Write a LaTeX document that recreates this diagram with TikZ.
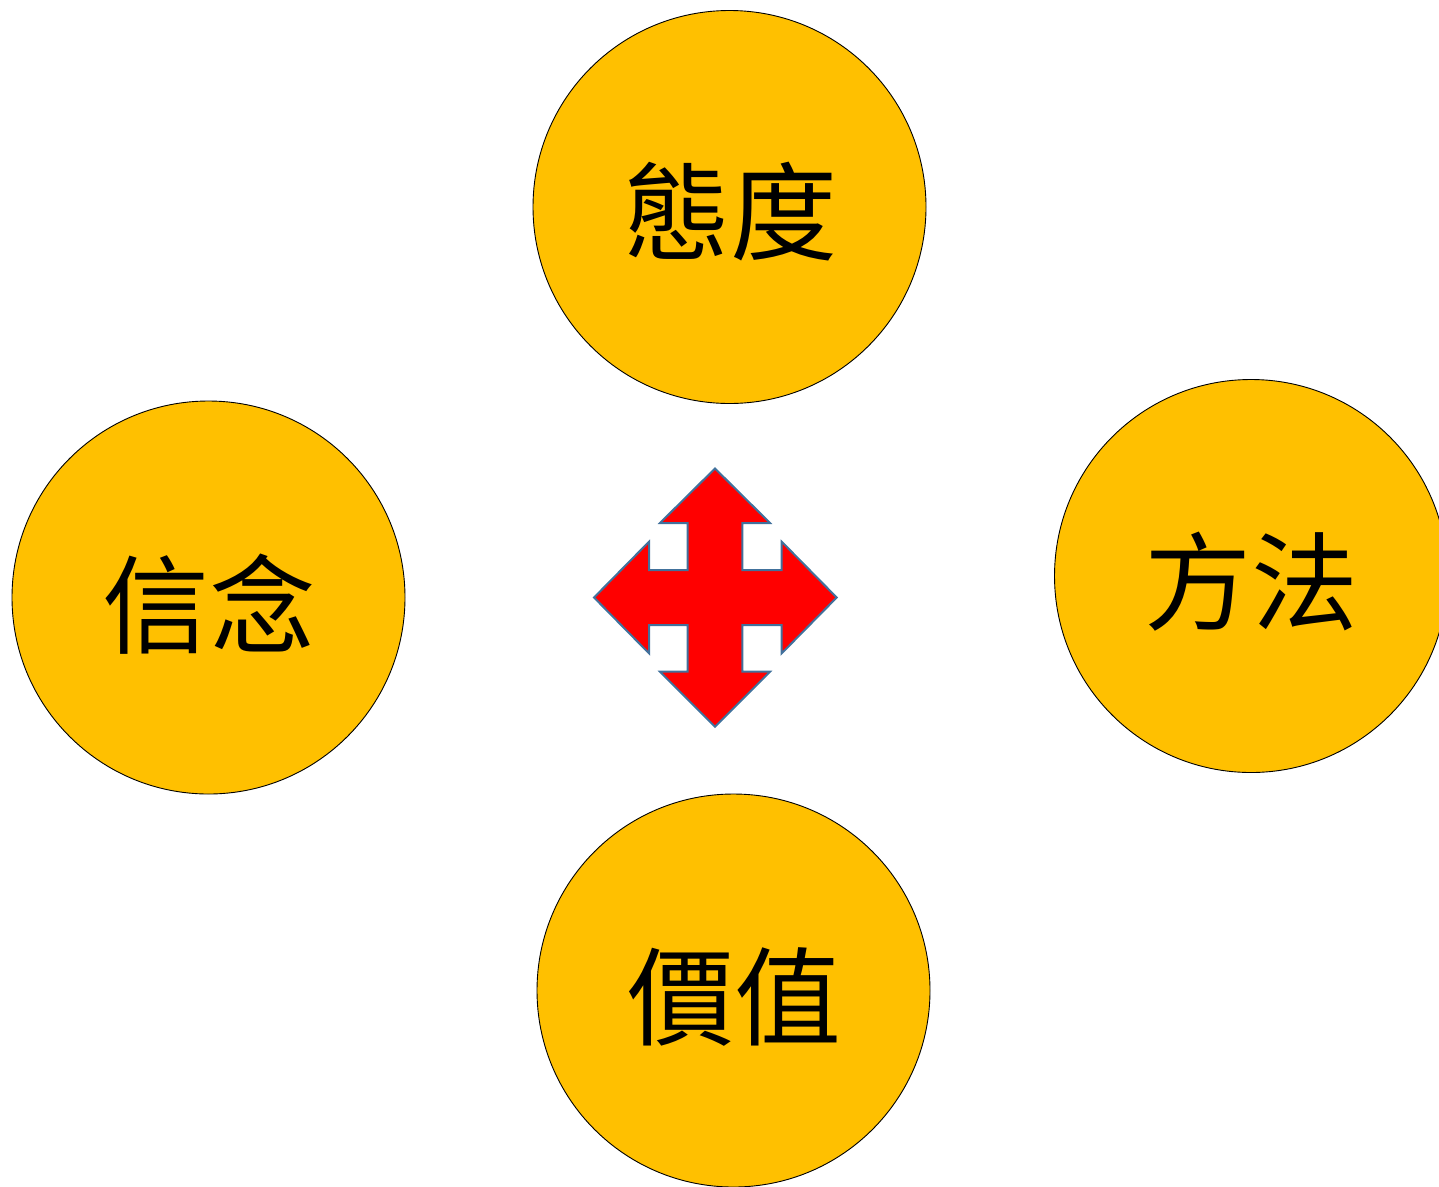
\documentclass[tikz,border=0pt]{standalone}
\usepackage{fontspec}
\newfontfamily\cjk{Noto Sans CJK TC}
\definecolor{gold}{HTML}{FFC000}
\definecolor{edgeblue}{HTML}{41719C}
\begin{document}
\begin{tikzpicture}[x=1pt,y=-1pt,
  bubble/.style={circle,draw=black,line width=0.9pt,fill=gold,minimum size=393pt,inner sep=0pt},
  word/.style={font=\cjk\fontsize{107}{107}\selectfont,text=black,inner sep=0pt},
  quadarrow/.style={fill=red,draw=edgeblue,line width=2pt,line join=miter}]
\useasboundingbox (0,0) rectangle (1439,1186);
\node[bubble] (top) at (729.5,207) {};
\node[bubble] (left) at (208.5,597.5) {};
\node[bubble] (right) at (1251,576) {};
\node[bubble] (bottom) at (733.5,990.5) {};
\node[word] (ttop) at (730,212) {態度};
\node[word] (tleft) at (209,604) {信念};
\node[word] (tright) at (1251,582) {方法};
\node[word] (tbottom) at (734,997) {價值};
\draw[quadarrow,shift={(715,597.5)}]
  (0,-129) -- (55,-74.5) -- (27.3,-74.5) -- (27.3,-27.5) -- (66.7,-27.5) -- (66.7,-55.8)
  -- (121.7,0) -- (66.7,55.8) -- (66.7,27.5) -- (27.3,27.5) -- (27.3,74.2) -- (55,74.2)
  -- (0,129.2) -- (-55,74.2) -- (-27.3,74.2) -- (-27.3,27.5) -- (-66,27.5) -- (-66,55.8)
  -- (-121,0) -- (-66,-55.8) -- (-66,-27.5) -- (-27.3,-27.5) -- (-27.3,-74.5) -- (-55,-74.5)
  -- cycle;
\end{tikzpicture}
\end{document}
